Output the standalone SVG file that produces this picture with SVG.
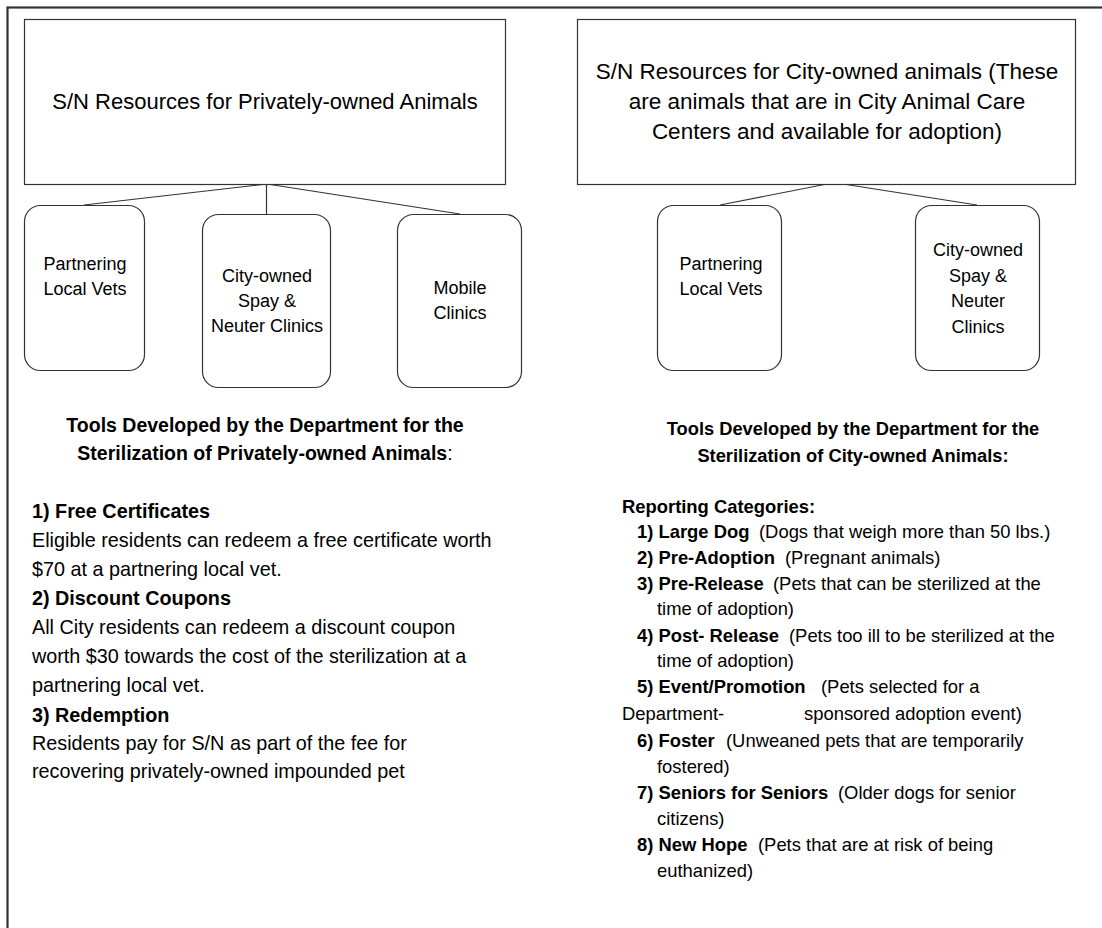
<svg xmlns="http://www.w3.org/2000/svg" width="1102" height="928" viewBox="0 0 1102 928">
<style>
text{font-family:"Liberation Sans",Arial,sans-serif;fill:#000}
.box{fill:#fff;stroke:#333;stroke-width:1.2}
.node{fill:#fff;stroke:#333;stroke-width:1.2}
.big{font-size:22px;text-anchor:middle}
.big2{font-size:22.5px;text-anchor:middle}
.nt{font-size:18px;text-anchor:middle}
.hl{font-size:19.5px;font-weight:bold;text-anchor:middle}
.bl{font-size:19.8px}
.hr{font-size:18.3px;font-weight:bold;text-anchor:middle}
.br{font-size:18.4px}
.b{font-weight:bold}
.conn line{stroke:#333;stroke-width:1.2}
</style>
<rect x="0" y="0" width="1102" height="928" fill="#fff"/>
<rect x="7.5" y="7.5" width="1110" height="940" fill="none" stroke="#333" stroke-width="2.2"/>

<g id="connectors" class="conn">
<line x1="267" y1="184" x2="84" y2="205"/>
<line x1="266.5" y1="184" x2="266.5" y2="214"/>
<line x1="267" y1="184" x2="460" y2="214"/>
<line x1="827" y1="184" x2="720" y2="205"/>
<line x1="843" y1="184" x2="977" y2="205"/>
</g>

<g id="private-root">
<rect class="box" x="24.5" y="19.5" width="481" height="165"/>
<text class="big" x="265" y="109">S/N Resources for Privately-owned Animals</text>
</g>
<g id="private-vets">
<rect class="node" x="24.5" y="205.5" width="120" height="165" rx="16"/>
<text class="nt" x="85" y="270">Partnering</text>
<text class="nt" x="85" y="295">Local Vets</text>
</g>
<g id="private-clinics">
<rect class="node" x="202.5" y="214.5" width="128" height="173" rx="16"/>
<text class="nt" x="267" y="282">City-owned</text>
<text class="nt" x="267" y="307">Spay &amp;</text>
<text class="nt" x="267" y="332">Neuter Clinics</text>
</g>
<g id="private-mobile">
<rect class="node" x="397.5" y="214.5" width="124" height="173" rx="16"/>
<text class="nt" x="460" y="294">Mobile</text>
<text class="nt" x="460" y="319">Clinics</text>
</g>

<g id="city-root">
<rect class="box" x="577.5" y="19.5" width="498" height="165"/>
<text class="big2" x="827" y="79">S/N Resources for City-owned animals (These</text>
<text class="big2" x="827" y="109">are animals that are in City Animal Care</text>
<text class="big2" x="827" y="139">Centers and available for adoption)</text>
</g>
<g id="city-vets">
<rect class="node" x="657.5" y="205.5" width="124" height="165" rx="16"/>
<text class="nt" x="721" y="270">Partnering</text>
<text class="nt" x="721" y="295">Local Vets</text>
</g>
<g id="city-clinics">
<rect class="node" x="915.5" y="205.5" width="124" height="165" rx="16"/>
<text class="nt" x="978" y="256">City-owned</text>
<text class="nt" x="978" y="282">Spay &amp;</text>
<text class="nt" x="978" y="307">Neuter</text>
<text class="nt" x="978" y="333">Clinics</text>
</g>

<g id="private-tools">
<text class="hl" x="265" y="432">Tools Developed by the Department for the</text>
<text class="hl" x="265" y="460">Sterilization of Privately-owned Animals<tspan font-weight="normal">:</tspan></text>
<text class="bl b" x="32" y="518">1) Free Certificates</text>
<text class="bl" x="32" y="547">Eligible residents can redeem a free certificate worth</text>
<text class="bl" x="32" y="576">$70 at a partnering local vet.</text>
<text class="bl b" x="32" y="605">2) Discount Coupons</text>
<text class="bl" x="32" y="634">All City residents can redeem a discount coupon</text>
<text class="bl" x="32" y="663">worth $30 towards the cost of the sterilization at a</text>
<text class="bl" x="32" y="692">partnering local vet.</text>
<text class="bl b" x="32" y="722">3) Redemption</text>
<text class="bl" x="32" y="750">Residents pay for S/N as part of the fee for</text>
<text class="bl" x="32" y="778">recovering privately-owned impounded pet</text>
</g>

<g id="city-tools">
<text class="hr" x="853" y="435">Tools Developed by the Department for the</text>
<text class="hr" x="853" y="462">Sterilization of City-owned Animals:</text>
<text class="br b" x="622" y="513">Reporting Categories:</text>
<text class="br b" x="637" y="538">1) Large Dog</text>
<text class="br" x="759" y="538">(Dogs that weigh more than 50 lbs.)</text>
<text class="br b" x="637" y="564">2) Pre-Adoption</text>
<text class="br" x="785" y="564">(Pregnant animals)</text>
<text class="br b" x="637" y="590">3) Pre-Release</text>
<text class="br" x="773" y="590">(Pets that can be sterilized at the</text>
<text class="br" x="657" y="615">time of adoption)</text>
<text class="br b" x="637" y="642">4) Post- Release</text>
<text class="br" x="789" y="642">(Pets too ill to be sterilized at the</text>
<text class="br" x="657" y="667">time of adoption)</text>
<text class="br b" x="637" y="693">5) Event/Promotion</text>
<text class="br" x="821" y="693">(Pets selected for a</text>
<text class="br" x="622" y="720">Department-</text>
<text class="br" x="804" y="720">sponsored adoption event)</text>
<text class="br b" x="637" y="747">6) Foster</text>
<text class="br" x="726" y="747">(Unweaned pets that are temporarily</text>
<text class="br" x="657" y="773">fostered)</text>
<text class="br b" x="637" y="799">7) Seniors for Seniors</text>
<text class="br" x="838" y="799">(Older dogs for senior</text>
<text class="br" x="657" y="825">citizens)</text>
<text class="br b" x="637" y="851">8) New Hope</text>
<text class="br" x="758" y="851">(Pets that are at risk of being</text>
<text class="br" x="657" y="877">euthanized)</text>
</g>
</svg>
